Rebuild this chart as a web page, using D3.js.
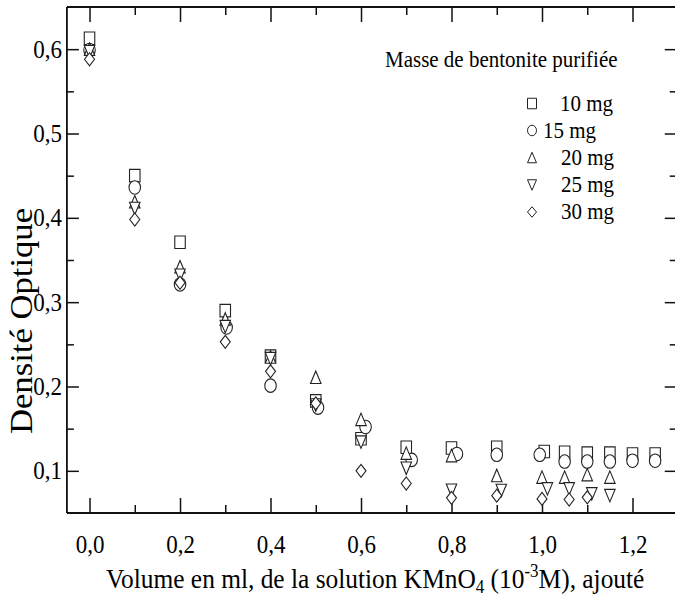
<!DOCTYPE html>
<html>
<head>
<meta charset="utf-8">
<script src="https://cdn.jsdelivr.net/npm/d3@7"></script>
<style>
  html, body { margin: 0; padding: 0; background: #fff; }
  svg { display: block; }
</style>
</head>
<body>
<svg id="chart" width="675" height="598"></svg>
<script>
// Volume of KMnO4 solution added (ml) and optical density, one pair of arrays per bentonite mass
const vol10 = [0.0, 0.1, 0.2, 0.3, 0.4, 0.5, 0.6, 0.7, 0.8, 0.9, 1.005, 1.05, 1.1, 1.15, 1.2, 1.25];
const od10  = [0.613, 0.450, 0.371, 0.290, 0.236, 0.183, 0.138, 0.128, 0.127, 0.128, 0.123, 0.122, 0.121, 0.121, 0.120, 0.120];

const vol15 = [0.0, 0.1, 0.2, 0.303, 0.4, 0.505, 0.61, 0.712, 0.812, 0.9, 0.995, 1.05, 1.1, 1.15, 1.2, 1.25];
const od15  = [0.599, 0.436, 0.321, 0.270, 0.201, 0.175, 0.152, 0.113, 0.120, 0.119, 0.119, 0.111, 0.111, 0.111, 0.112, 0.112];

const vol20 = [0.0, 0.1, 0.2, 0.3, 0.4, 0.5, 0.6, 0.7, 0.8, 0.9, 1.0, 1.05, 1.1, 1.15];
const od20  = [0.600, 0.419, 0.342, 0.280, 0.235, 0.211, 0.161, 0.121, 0.118, 0.0945, 0.0925, 0.0925, 0.0955, 0.0925];

const vol25 = [0.0, 0.1, 0.2, 0.3, 0.4, 0.5, 0.6, 0.7, 0.8, 0.91, 1.012, 1.06, 1.11, 1.15];
const od25  = [0.597, 0.411, 0.332, 0.271, 0.233, 0.178, 0.134, 0.103, 0.077, 0.0766, 0.0786, 0.0786, 0.0727, 0.0706];

const vol30 = [0.0, 0.1, 0.2, 0.3, 0.4, 0.5, 0.6, 0.7, 0.8, 0.9, 1.0, 1.06, 1.1];
const od30  = [0.588, 0.398, 0.323, 0.253, 0.218, 0.180, 0.100, 0.085, 0.068, 0.0706, 0.0667, 0.066, 0.0686];

const seriesNames = ["10 mg", "15 mg", "20 mg", "25 mg", "30 mg"];
const seriesShapes = ["square", "circle", "up", "down", "diamond"];

const xMajorTicks = [0.0, 0.2, 0.4, 0.6, 0.8, 1.0, 1.2];
const xTickLabels = ["0,0", "0,2", "0,4", "0,6", "0,8", "1,0", "1,2"];
const xMinorTicks = [0.1, 0.3, 0.5, 0.7, 0.9, 1.1];
const yMajorTicks = [0.1, 0.2, 0.3, 0.4, 0.5, 0.6];
const yTickLabels = ["0,1", "0,2", "0,3", "0,4", "0,5", "0,6"];
const yMinorTicks = [0.15, 0.25, 0.35, 0.45, 0.55];

const serifFont = "'Liberation Serif', Tinos, 'Times New Roman', Times, 'DejaVu Serif', serif";
const stretch = 1.1; // glyphs are drawn a little taller than wide

// vertical stretch that keeps the baseline at y
const tall = (yb, s = stretch) => `matrix(1,0,0,${s},0,${yb * (1 - s)})`;

const series = [
  { x: vol10, y: od10 },
  { x: vol15, y: od15 },
  { x: vol20, y: od20 },
  { x: vol25, y: od25 },
  { x: vol30, y: od30 }
].map((s, i) => ({ name: seriesNames[i], shape: seriesShapes[i],
                   points: s.x.map((v, j) => ({ v, d: s.y[j] })) }));

const svg = d3.select("#chart").attr("font-family", serifFont);

const plotLeft = 66.9, plotRight = 677.75, plotTop = 7, plotBottom = 513;
const x = d3.scaleLinear().domain([-0.05, 1.3]).range([plotLeft, plotRight]);
const y = d3.scaleLinear().domain([0.05, 0.65]).range([plotBottom, plotTop]);

// open marker outlines, slightly taller than wide
function shapePath(kind, w, h) {
  const a = w / 2, b = h / 2;
  switch (kind) {
    case "square":  return `M${-a},${-b}H${a}V${b}H${-a}Z`;
    case "circle":  return `M${-a},0A${a},${b} 0 1,0 ${a},0A${a},${b} 0 1,0 ${-a},0Z`;
    case "up":      return `M0,${-b}L${a},${b}L${-a},${b}Z`;
    case "down":    return `M0,${b}L${a},${-b}L${-a},${-b}Z`;
    case "diamond": return `M0,${-b}L${a},0L0,${b}L${-a},0Z`;
  }
}
const markerSize = {
  square: [10.5, 12.5], circle: [11.5, 13.5], up: [10.5, 12.5], down: [10.5, 12.5], diamond: [10, 13]
};

// ---- axes ----
function styleAxis(g, width) {
  g.attr("font-family", serifFont).attr("font-size", null);
  g.select(".domain").remove();
  g.selectAll(".tick line").attr("stroke", "#111").attr("stroke-width", width);
  g.selectAll("text").attr("fill", "#000");
}

const labelFont = 23;

svg.append("g").attr("transform", `translate(0,${plotBottom})`)
  .call(d3.axisBottom(x).tickValues(xMajorTicks).tickSize(-15)
        .tickFormat((d, i) => xTickLabels[i]))
  .call(g => styleAxis(g, 1.5))
  .call(g => g.selectAll("text").attr("font-size", labelFont)
        .attr("dy", null).attr("y", 40).attr("transform", tall(40)));

svg.append("g").attr("transform", `translate(0,${plotBottom})`)
  .call(d3.axisBottom(x).tickValues(xMinorTicks).tickSize(-8).tickFormat(""))
  .call(g => styleAxis(g, 1.5));

svg.append("g").attr("transform", `translate(0,${plotTop})`)
  .call(d3.axisTop(x).tickValues(xMajorTicks).tickSize(-15).tickFormat(""))
  .call(g => styleAxis(g, 1.5));

svg.append("g").attr("transform", `translate(0,${plotTop})`)
  .call(d3.axisTop(x).tickValues(xMinorTicks).tickSize(-8).tickFormat(""))
  .call(g => styleAxis(g, 1.5));

svg.append("g").attr("transform", `translate(${plotLeft},0)`)
  .call(d3.axisLeft(y).tickValues(yMajorTicks).tickSize(-12).tickPadding(5)
        .tickFormat((d, i) => yTickLabels[i]))
  .call(g => styleAxis(g, 1.5))
  .call(g => g.selectAll("text").attr("font-size", labelFont)
        .attr("dy", null).attr("y", 8).attr("transform", tall(8)));

svg.append("g").attr("transform", `translate(${plotLeft},0)`)
  .call(d3.axisLeft(y).tickValues(yMinorTicks).tickSize(-7).tickFormat(""))
  .call(g => styleAxis(g, 1.5));

svg.append("g").attr("transform", `translate(${plotRight},0)`)
  .call(d3.axisRight(y).tickValues(yMajorTicks).tickSize(-13).tickFormat(""))
  .call(g => styleAxis(g, 1.5));

svg.append("g").attr("transform", `translate(${plotRight},0)`)
  .call(d3.axisRight(y).tickValues(yMinorTicks).tickSize(-8).tickFormat(""))
  .call(g => styleAxis(g, 1.5));

// frame
const frame = svg.append("g").attr("stroke", "#111").attr("stroke-width", 1.8).attr("fill", "none");
frame.append("line").attr("x1", plotLeft).attr("x2", plotRight).attr("y1", plotTop).attr("y2", plotTop);
frame.append("line").attr("x1", plotLeft).attr("x2", plotRight).attr("y1", plotBottom).attr("y2", plotBottom);
frame.append("line").attr("x1", plotLeft).attr("x2", plotLeft).attr("y1", plotTop).attr("y2", plotBottom);
frame.append("line").attr("x1", plotRight).attr("x2", plotRight).attr("y1", plotTop).attr("y2", plotBottom);

// ---- data markers ----
series.forEach(s => {
  const [w, h] = markerSize[s.shape];
  svg.append("g").attr("class", "series")
    .selectAll("path").data(s.points).join("path")
    .attr("transform", p => `translate(${x(p.v)},${y(p.d)})`)
    .attr("d", shapePath(s.shape, w, h))
    .attr("fill", "#fff")
    .attr("stroke", "#222")
    .attr("stroke-width", 1.1);
});

// ---- legend ----
const legend = svg.append("g").attr("font-family", serifFont);
legend.append("text").attr("x", 385).attr("y", 67).attr("font-size", 21)
  .attr("transform", tall(67))
  .text("Masse de bentonite purifiée");

const legendRowY = [103.5, 130.5, 157.5, 185, 212];
const legendTextX = [560, 543, 561, 561, 561];
series.forEach((s, i) => {
  legend.append("path")
    .attr("transform", `translate(532,${legendRowY[i]})`)
    .attr("d", shapePath(s.shape, 9, 10.5))
    .attr("fill", "none").attr("stroke", "#222").attr("stroke-width", 1);
  const yb = legendRowY[i] + 7.5;
  legend.append("text").attr("x", legendTextX[i]).attr("y", yb)
    .attr("transform", tall(yb))
    .attr("font-size", 21).text(s.name);
});

// ---- axis titles ----
const xTitle = svg.append("text").attr("x", 106).attr("y", 588).attr("font-size", 25.4)
  .attr("transform", tall(588, 1.05));
xTitle.append("tspan").text("Volume en ml, de la solution KMnO");
xTitle.append("tspan").attr("font-size", 17).attr("dy", 5).text("4");
xTitle.append("tspan").attr("dy", -5).text(" (10");
xTitle.append("tspan").attr("font-size", 17).attr("dy", -10).text("-3");
xTitle.append("tspan").attr("dy", 10).text("M), ajouté");

svg.append("text")
  .attr("transform", `translate(32,321) rotate(-90) scale(${stretch},1)`)
  .attr("text-anchor", "middle")
  .attr("font-size", 31.5)
  .text("Densité Optique");
</script>
</body>
</html>
